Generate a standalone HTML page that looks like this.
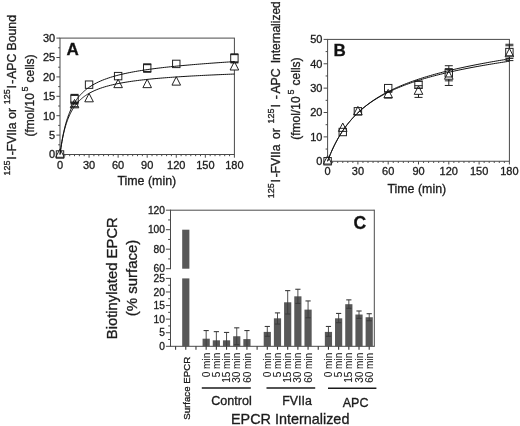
<!DOCTYPE html>
<html lang="en">
<head>
<meta charset="utf-8">
<title>Figure</title>
<style>
html,body{margin:0;padding:0;background:#fff;}
body{width:520px;height:426px;overflow:hidden;}
svg{display:block;}
text{font-family:"Liberation Sans",Arial,sans-serif;stroke:#1c1c1c;stroke-width:0.32px;}
</style>
</head>
<body>
<svg width="520" height="426" viewBox="0 0 520 426" font-family="'Liberation Sans', Arial, sans-serif">
<rect width="520" height="426" fill="#fff"/>
<rect x="60" y="38.1" width="174.4" height="116.4" fill="none" stroke="#4a4a4a" stroke-width="1"/>
<line x1="60" y1="154.5" x2="60" y2="157.7" stroke="#4a4a4a" stroke-width="1" />
<line x1="64.84" y1="154.5" x2="64.84" y2="156.2" stroke="#4a4a4a" stroke-width="1" />
<line x1="69.69" y1="154.5" x2="69.69" y2="156.2" stroke="#4a4a4a" stroke-width="1" />
<line x1="74.53" y1="154.5" x2="74.53" y2="156.2" stroke="#4a4a4a" stroke-width="1" />
<line x1="79.38" y1="154.5" x2="79.38" y2="156.2" stroke="#4a4a4a" stroke-width="1" />
<line x1="84.22" y1="154.5" x2="84.22" y2="156.2" stroke="#4a4a4a" stroke-width="1" />
<line x1="89.07" y1="154.5" x2="89.07" y2="157.7" stroke="#4a4a4a" stroke-width="1" />
<line x1="93.91" y1="154.5" x2="93.91" y2="156.2" stroke="#4a4a4a" stroke-width="1" />
<line x1="98.76" y1="154.5" x2="98.76" y2="156.2" stroke="#4a4a4a" stroke-width="1" />
<line x1="103.6" y1="154.5" x2="103.6" y2="156.2" stroke="#4a4a4a" stroke-width="1" />
<line x1="108.44" y1="154.5" x2="108.44" y2="156.2" stroke="#4a4a4a" stroke-width="1" />
<line x1="113.29" y1="154.5" x2="113.29" y2="156.2" stroke="#4a4a4a" stroke-width="1" />
<line x1="118.13" y1="154.5" x2="118.13" y2="157.7" stroke="#4a4a4a" stroke-width="1" />
<line x1="122.98" y1="154.5" x2="122.98" y2="156.2" stroke="#4a4a4a" stroke-width="1" />
<line x1="127.82" y1="154.5" x2="127.82" y2="156.2" stroke="#4a4a4a" stroke-width="1" />
<line x1="132.67" y1="154.5" x2="132.67" y2="156.2" stroke="#4a4a4a" stroke-width="1" />
<line x1="137.51" y1="154.5" x2="137.51" y2="156.2" stroke="#4a4a4a" stroke-width="1" />
<line x1="142.36" y1="154.5" x2="142.36" y2="156.2" stroke="#4a4a4a" stroke-width="1" />
<line x1="147.2" y1="154.5" x2="147.2" y2="157.7" stroke="#4a4a4a" stroke-width="1" />
<line x1="152.04" y1="154.5" x2="152.04" y2="156.2" stroke="#4a4a4a" stroke-width="1" />
<line x1="156.89" y1="154.5" x2="156.89" y2="156.2" stroke="#4a4a4a" stroke-width="1" />
<line x1="161.73" y1="154.5" x2="161.73" y2="156.2" stroke="#4a4a4a" stroke-width="1" />
<line x1="166.58" y1="154.5" x2="166.58" y2="156.2" stroke="#4a4a4a" stroke-width="1" />
<line x1="171.42" y1="154.5" x2="171.42" y2="156.2" stroke="#4a4a4a" stroke-width="1" />
<line x1="176.27" y1="154.5" x2="176.27" y2="157.7" stroke="#4a4a4a" stroke-width="1" />
<line x1="181.11" y1="154.5" x2="181.11" y2="156.2" stroke="#4a4a4a" stroke-width="1" />
<line x1="185.96" y1="154.5" x2="185.96" y2="156.2" stroke="#4a4a4a" stroke-width="1" />
<line x1="190.8" y1="154.5" x2="190.8" y2="156.2" stroke="#4a4a4a" stroke-width="1" />
<line x1="195.64" y1="154.5" x2="195.64" y2="156.2" stroke="#4a4a4a" stroke-width="1" />
<line x1="200.49" y1="154.5" x2="200.49" y2="156.2" stroke="#4a4a4a" stroke-width="1" />
<line x1="205.33" y1="154.5" x2="205.33" y2="157.7" stroke="#4a4a4a" stroke-width="1" />
<line x1="210.18" y1="154.5" x2="210.18" y2="156.2" stroke="#4a4a4a" stroke-width="1" />
<line x1="215.02" y1="154.5" x2="215.02" y2="156.2" stroke="#4a4a4a" stroke-width="1" />
<line x1="219.87" y1="154.5" x2="219.87" y2="156.2" stroke="#4a4a4a" stroke-width="1" />
<line x1="224.71" y1="154.5" x2="224.71" y2="156.2" stroke="#4a4a4a" stroke-width="1" />
<line x1="229.56" y1="154.5" x2="229.56" y2="156.2" stroke="#4a4a4a" stroke-width="1" />
<line x1="234.4" y1="154.5" x2="234.4" y2="157.7" stroke="#4a4a4a" stroke-width="1" />
<text x="60" y="168.7" font-size="11" text-anchor="middle" font-weight="normal" fill="#1c1c1c" >0</text>
<text x="89.07" y="168.7" font-size="11" text-anchor="middle" font-weight="normal" fill="#1c1c1c" >30</text>
<text x="118.13" y="168.7" font-size="11" text-anchor="middle" font-weight="normal" fill="#1c1c1c" >60</text>
<text x="147.2" y="168.7" font-size="11" text-anchor="middle" font-weight="normal" fill="#1c1c1c" >90</text>
<text x="176.27" y="168.7" font-size="11" text-anchor="middle" font-weight="normal" fill="#1c1c1c" >120</text>
<text x="205.33" y="168.7" font-size="11" text-anchor="middle" font-weight="normal" fill="#1c1c1c" >150</text>
<text x="234.4" y="168.7" font-size="11" text-anchor="middle" font-weight="normal" fill="#1c1c1c" >180</text>
<line x1="56.4" y1="154.5" x2="60" y2="154.5" stroke="#4a4a4a" stroke-width="1" />
<text x="55.2" y="158.4" font-size="11" text-anchor="end" font-weight="normal" fill="#1c1c1c" >0</text>
<line x1="58.2" y1="144.8" x2="60" y2="144.8" stroke="#4a4a4a" stroke-width="1" />
<line x1="56.4" y1="135.1" x2="60" y2="135.1" stroke="#4a4a4a" stroke-width="1" />
<text x="55.2" y="139" font-size="11" text-anchor="end" font-weight="normal" fill="#1c1c1c" >5</text>
<line x1="58.2" y1="125.4" x2="60" y2="125.4" stroke="#4a4a4a" stroke-width="1" />
<line x1="56.4" y1="115.7" x2="60" y2="115.7" stroke="#4a4a4a" stroke-width="1" />
<text x="55.2" y="119.6" font-size="11" text-anchor="end" font-weight="normal" fill="#1c1c1c" >10</text>
<line x1="58.2" y1="106" x2="60" y2="106" stroke="#4a4a4a" stroke-width="1" />
<line x1="56.4" y1="96.3" x2="60" y2="96.3" stroke="#4a4a4a" stroke-width="1" />
<text x="55.2" y="100.2" font-size="11" text-anchor="end" font-weight="normal" fill="#1c1c1c" >15</text>
<line x1="58.2" y1="86.6" x2="60" y2="86.6" stroke="#4a4a4a" stroke-width="1" />
<line x1="56.4" y1="76.9" x2="60" y2="76.9" stroke="#4a4a4a" stroke-width="1" />
<text x="55.2" y="80.8" font-size="11" text-anchor="end" font-weight="normal" fill="#1c1c1c" >20</text>
<line x1="58.2" y1="67.2" x2="60" y2="67.2" stroke="#4a4a4a" stroke-width="1" />
<line x1="56.4" y1="57.5" x2="60" y2="57.5" stroke="#4a4a4a" stroke-width="1" />
<text x="55.2" y="61.4" font-size="11" text-anchor="end" font-weight="normal" fill="#1c1c1c" >25</text>
<line x1="58.2" y1="47.8" x2="60" y2="47.8" stroke="#4a4a4a" stroke-width="1" />
<line x1="56.4" y1="38.1" x2="60" y2="38.1" stroke="#4a4a4a" stroke-width="1" />
<text x="55.2" y="42" font-size="11" text-anchor="end" font-weight="normal" fill="#1c1c1c" >30</text>
<line x1="74.53" y1="94.75" x2="74.53" y2="103.67" stroke="#222" stroke-width="1" />
<line x1="147.2" y1="64.29" x2="147.2" y2="71.86" stroke="#222" stroke-width="1" />
<line x1="234.4" y1="54.2" x2="234.4" y2="62.54" stroke="#222" stroke-width="1" />
<line x1="74.53" y1="102.12" x2="74.53" y2="106.78" stroke="#222" stroke-width="1" />
<rect x="56.3" y="150.8" width="7.4" height="7.4" fill="#fff" stroke="none" stroke-width="1"/>
<rect x="70.83" y="95.32" width="7.4" height="7.4" fill="#fff" stroke="none" stroke-width="1"/>
<rect x="85.37" y="80.96" width="7.4" height="7.4" fill="#fff" stroke="none" stroke-width="1"/>
<rect x="114.43" y="72.42" width="7.4" height="7.4" fill="#fff" stroke="none" stroke-width="1"/>
<rect x="143.5" y="64.28" width="7.4" height="7.4" fill="#fff" stroke="none" stroke-width="1"/>
<rect x="172.57" y="60.2" width="7.4" height="7.4" fill="#fff" stroke="none" stroke-width="1"/>
<rect x="230.7" y="54.58" width="7.4" height="7.4" fill="#fff" stroke="none" stroke-width="1"/>
<polygon points="60,148.9 55.7,157.3 64.3,157.3" fill="#fff" stroke="none" stroke-width="1" stroke-linejoin="miter"/>
<polygon points="74.53,99.43 70.23,107.83 78.83,107.83" fill="#fff" stroke="none" stroke-width="1" stroke-linejoin="miter"/>
<polygon points="89.07,93.42 84.77,101.82 93.37,101.82" fill="#fff" stroke="none" stroke-width="1" stroke-linejoin="miter"/>
<polygon points="118.13,79.25 113.83,87.65 122.43,87.65" fill="#fff" stroke="none" stroke-width="1" stroke-linejoin="miter"/>
<polygon points="147.2,79.25 142.9,87.65 151.5,87.65" fill="#fff" stroke="none" stroke-width="1" stroke-linejoin="miter"/>
<polygon points="176.27,76.73 171.97,85.13 180.57,85.13" fill="#fff" stroke="none" stroke-width="1" stroke-linejoin="miter"/>
<polygon points="234.4,61.6 230.1,70 238.7,70" fill="#fff" stroke="none" stroke-width="1" stroke-linejoin="miter"/>
<rect x="56.3" y="150.8" width="7.4" height="7.4" fill="none" stroke="#222" stroke-width="1"/>
<rect x="70.83" y="95.32" width="7.4" height="7.4" fill="none" stroke="#222" stroke-width="1"/>
<rect x="85.37" y="80.96" width="7.4" height="7.4" fill="none" stroke="#222" stroke-width="1"/>
<rect x="114.43" y="72.42" width="7.4" height="7.4" fill="none" stroke="#222" stroke-width="1"/>
<rect x="143.5" y="64.28" width="7.4" height="7.4" fill="none" stroke="#222" stroke-width="1"/>
<rect x="172.57" y="60.2" width="7.4" height="7.4" fill="none" stroke="#222" stroke-width="1"/>
<rect x="230.7" y="54.58" width="7.4" height="7.4" fill="none" stroke="#222" stroke-width="1"/>
<polygon points="60,148.9 55.7,157.3 64.3,157.3" fill="none" stroke="#222" stroke-width="1" stroke-linejoin="miter"/>
<polygon points="74.53,99.43 70.23,107.83 78.83,107.83" fill="none" stroke="#222" stroke-width="1" stroke-linejoin="miter"/>
<polygon points="89.07,93.42 84.77,101.82 93.37,101.82" fill="none" stroke="#222" stroke-width="1" stroke-linejoin="miter"/>
<polygon points="118.13,79.25 113.83,87.65 122.43,87.65" fill="none" stroke="#222" stroke-width="1" stroke-linejoin="miter"/>
<polygon points="147.2,79.25 142.9,87.65 151.5,87.65" fill="none" stroke="#222" stroke-width="1" stroke-linejoin="miter"/>
<polygon points="176.27,76.73 171.97,85.13 180.57,85.13" fill="none" stroke="#222" stroke-width="1" stroke-linejoin="miter"/>
<polygon points="234.4,61.6 230.1,70 238.7,70" fill="none" stroke="#222" stroke-width="1" stroke-linejoin="miter"/>
<line x1="70.53" y1="94.75" x2="78.53" y2="94.75" stroke="#222" stroke-width="1.8" />
<line x1="70.53" y1="103.67" x2="78.53" y2="103.67" stroke="#222" stroke-width="1.8" />
<line x1="143.2" y1="64.29" x2="151.2" y2="64.29" stroke="#222" stroke-width="1.8" />
<line x1="143.2" y1="71.86" x2="151.2" y2="71.86" stroke="#222" stroke-width="1.8" />
<line x1="230.4" y1="54.2" x2="238.4" y2="54.2" stroke="#222" stroke-width="1.8" />
<line x1="230.4" y1="62.54" x2="238.4" y2="62.54" stroke="#222" stroke-width="1.8" />
<line x1="70.53" y1="102.12" x2="78.53" y2="102.12" stroke="#222" stroke-width="1.2" />
<line x1="70.53" y1="106.78" x2="78.53" y2="106.78" stroke="#222" stroke-width="1.2" />
<polyline points="60,154.5 60.48,150.82 60.97,147.41 61.45,144.25 61.94,141.32 62.42,138.58 62.91,136.02 63.39,133.62 63.88,131.37 64.36,129.25 64.84,127.26 65.33,125.37 65.81,123.59 66.3,121.91 66.78,120.31 67.27,118.79 67.75,117.35 68.24,115.97 68.72,114.66 69.2,113.41 69.69,112.21 70.17,111.07 70.66,109.97 71.14,108.92 71.63,107.92 72.11,106.95 72.6,106.02 73.08,105.13 73.56,104.27 74.05,103.44 74.53,102.64 75.02,101.87 75.5,101.12 75.99,100.41 76.47,99.71 76.96,99.04 77.44,98.39 77.92,97.76 78.41,97.15 78.89,96.56 79.38,95.99 79.86,95.43 80.35,94.89 80.83,94.37 81.32,93.86 81.8,93.37 82.28,92.88 82.77,92.42 83.25,91.96 83.74,91.52 84.22,91.08 84.71,90.66 85.19,90.25 85.68,89.85 86.16,89.46 86.64,89.08 87.13,88.71 87.61,88.35 88.1,87.99 88.58,87.64 89.07,87.31 91,86.02 92.94,84.85 94.88,83.76 96.82,82.76 98.76,81.83 100.69,80.96 102.63,80.16 104.57,79.4 106.51,78.69 108.44,78.02 110.38,77.39 112.32,76.79 114.26,76.22 116.2,75.68 118.13,75.17 120.07,74.69 122.01,74.22 123.95,73.78 125.88,73.35 127.82,72.95 129.76,72.56 131.7,72.18 133.64,71.82 135.57,71.47 137.51,71.14 139.45,70.81 141.39,70.5 143.32,70.2 145.26,69.9 147.2,69.62 149.14,69.34 151.08,69.08 153.01,68.82 154.95,68.56 156.89,68.32 158.83,68.08 160.76,67.84 162.7,67.62 164.64,67.39 166.58,67.18 168.52,66.97 170.45,66.76 172.39,66.56 174.33,66.36 176.27,66.16 178.2,65.97 180.14,65.79 182.08,65.6 184.02,65.42 185.96,65.25 187.89,65.08 189.83,64.91 191.77,64.74 193.71,64.57 195.64,64.41 197.58,64.25 199.52,64.1 201.46,63.94 203.4,63.79 205.33,63.64 207.27,63.5 209.21,63.35 211.15,63.21 213.08,63.07 215.02,62.93 216.96,62.79 218.9,62.65 220.84,62.52 222.77,62.39 224.71,62.25 226.65,62.12 228.59,62 230.52,61.87 232.46,61.74 234.4,61.62" fill="none" stroke="#111" stroke-width="1"/>
<polyline points="60,154.5 60.48,150.88 60.97,147.56 61.45,144.51 61.94,141.69 62.42,139.08 62.91,136.66 63.39,134.4 63.88,132.29 64.36,130.32 64.84,128.48 65.33,126.74 65.81,125.1 66.3,123.56 66.78,122.11 67.27,120.73 67.75,119.42 68.24,118.18 68.72,117.01 69.2,115.89 69.69,114.82 70.17,113.8 70.66,112.83 71.14,111.9 71.63,111.01 72.11,110.16 72.6,109.35 73.08,108.56 73.56,107.81 74.05,107.09 74.53,106.4 75.02,105.73 75.5,105.08 75.99,104.46 76.47,103.86 76.96,103.28 77.44,102.73 77.92,102.19 78.41,101.66 78.89,101.16 79.38,100.67 79.86,100.2 80.35,99.74 80.83,99.29 81.32,98.86 81.8,98.44 82.28,98.03 82.77,97.64 83.25,97.25 83.74,96.88 84.22,96.52 84.71,96.16 85.19,95.82 85.68,95.48 86.16,95.16 86.64,94.84 87.13,94.53 87.61,94.23 88.1,93.93 88.58,93.64 89.07,93.36 91,92.3 92.94,91.34 94.88,90.45 96.82,89.63 98.76,88.88 100.69,88.18 102.63,87.52 104.57,86.92 106.51,86.35 108.44,85.82 110.38,85.32 112.32,84.85 114.26,84.41 116.2,83.99 118.13,83.59 120.07,83.21 122.01,82.85 123.95,82.51 125.88,82.19 127.82,81.88 129.76,81.58 131.7,81.3 133.64,81.03 135.57,80.77 137.51,80.52 139.45,80.28 141.39,80.05 143.32,79.83 145.26,79.61 147.2,79.4 149.14,79.2 151.08,79.01 153.01,78.82 154.95,78.64 156.89,78.47 158.83,78.3 160.76,78.13 162.7,77.97 164.64,77.82 166.58,77.67 168.52,77.52 170.45,77.38 172.39,77.24 174.33,77.1 176.27,76.97 178.2,76.84 180.14,76.71 182.08,76.59 184.02,76.47 185.96,76.35 187.89,76.24 189.83,76.12 191.77,76.01 193.71,75.91 195.64,75.8 197.58,75.7 199.52,75.6 201.46,75.5 203.4,75.4 205.33,75.3 207.27,75.21 209.21,75.12 211.15,75.03 213.08,74.94 215.02,74.85 216.96,74.76 218.9,74.68 220.84,74.59 222.77,74.51 224.71,74.43 226.65,74.35 228.59,74.27 230.52,74.2 232.46,74.12 234.4,74.05" fill="none" stroke="#111" stroke-width="1"/>
<text x="66.6" y="54.7" font-size="17" text-anchor="start" font-weight="bold" fill="#111" >A</text>
<text x="146.8" y="185" font-size="12.4" text-anchor="middle" font-weight="normal" fill="#1c1c1c" >Time (min)</text>
<text x="10" y="175.49" font-size="9" fill="#1c1c1c" transform="rotate(-90 10 175.49)">125</text>
<text x="16.2" y="159.78" font-size="12" fill="#1c1c1c" transform="rotate(-90 16.2 159.78)">I</text>
<text x="16.2" y="155.18" font-size="12" fill="#1c1c1c" transform="rotate(-90 16.2 155.18)">-FVIIa</text>
<text x="16.2" y="118.72" font-size="12" fill="#1c1c1c" transform="rotate(-90 16.2 118.72)">or</text>
<text x="10" y="104.19" font-size="9" fill="#1c1c1c" transform="rotate(-90 10 104.19)">125</text>
<text x="16.2" y="88.38" font-size="12" fill="#1c1c1c" transform="rotate(-90 16.2 88.38)">I</text>
<text x="16.2" y="83.68" font-size="12" fill="#1c1c1c" transform="rotate(-90 16.2 83.68)">-</text>
<text x="16.2" y="79" font-size="12.3" fill="#1c1c1c" transform="rotate(-90 16.2 79)">APC</text>
<text x="16.2" y="50.52" font-size="12.3" fill="#1c1c1c" transform="rotate(-90 16.2 50.52)">Bound</text>
<text x="34" y="136.52" font-size="12" fill="#1c1c1c" transform="rotate(-90 34 136.52)">(fmol/10</text>
<text x="28.5" y="91.52" font-size="9" fill="#1c1c1c" transform="rotate(-90 28.5 91.52)">5</text>
<text x="34" y="82.42" font-size="12" fill="#1c1c1c" transform="rotate(-90 34 82.42)">cells)</text>
<rect x="327.6" y="39.4" width="181.8" height="121.85" fill="none" stroke="#4a4a4a" stroke-width="1"/>
<line x1="327.6" y1="161.25" x2="327.6" y2="164.45" stroke="#4a4a4a" stroke-width="1" />
<line x1="332.65" y1="161.25" x2="332.65" y2="162.95" stroke="#4a4a4a" stroke-width="1" />
<line x1="337.7" y1="161.25" x2="337.7" y2="162.95" stroke="#4a4a4a" stroke-width="1" />
<line x1="342.75" y1="161.25" x2="342.75" y2="162.95" stroke="#4a4a4a" stroke-width="1" />
<line x1="347.8" y1="161.25" x2="347.8" y2="162.95" stroke="#4a4a4a" stroke-width="1" />
<line x1="352.85" y1="161.25" x2="352.85" y2="162.95" stroke="#4a4a4a" stroke-width="1" />
<line x1="357.9" y1="161.25" x2="357.9" y2="164.45" stroke="#4a4a4a" stroke-width="1" />
<line x1="362.95" y1="161.25" x2="362.95" y2="162.95" stroke="#4a4a4a" stroke-width="1" />
<line x1="368" y1="161.25" x2="368" y2="162.95" stroke="#4a4a4a" stroke-width="1" />
<line x1="373.05" y1="161.25" x2="373.05" y2="162.95" stroke="#4a4a4a" stroke-width="1" />
<line x1="378.1" y1="161.25" x2="378.1" y2="162.95" stroke="#4a4a4a" stroke-width="1" />
<line x1="383.15" y1="161.25" x2="383.15" y2="162.95" stroke="#4a4a4a" stroke-width="1" />
<line x1="388.2" y1="161.25" x2="388.2" y2="164.45" stroke="#4a4a4a" stroke-width="1" />
<line x1="393.25" y1="161.25" x2="393.25" y2="162.95" stroke="#4a4a4a" stroke-width="1" />
<line x1="398.3" y1="161.25" x2="398.3" y2="162.95" stroke="#4a4a4a" stroke-width="1" />
<line x1="403.35" y1="161.25" x2="403.35" y2="162.95" stroke="#4a4a4a" stroke-width="1" />
<line x1="408.4" y1="161.25" x2="408.4" y2="162.95" stroke="#4a4a4a" stroke-width="1" />
<line x1="413.45" y1="161.25" x2="413.45" y2="162.95" stroke="#4a4a4a" stroke-width="1" />
<line x1="418.5" y1="161.25" x2="418.5" y2="164.45" stroke="#4a4a4a" stroke-width="1" />
<line x1="423.55" y1="161.25" x2="423.55" y2="162.95" stroke="#4a4a4a" stroke-width="1" />
<line x1="428.6" y1="161.25" x2="428.6" y2="162.95" stroke="#4a4a4a" stroke-width="1" />
<line x1="433.65" y1="161.25" x2="433.65" y2="162.95" stroke="#4a4a4a" stroke-width="1" />
<line x1="438.7" y1="161.25" x2="438.7" y2="162.95" stroke="#4a4a4a" stroke-width="1" />
<line x1="443.75" y1="161.25" x2="443.75" y2="162.95" stroke="#4a4a4a" stroke-width="1" />
<line x1="448.8" y1="161.25" x2="448.8" y2="164.45" stroke="#4a4a4a" stroke-width="1" />
<line x1="453.85" y1="161.25" x2="453.85" y2="162.95" stroke="#4a4a4a" stroke-width="1" />
<line x1="458.9" y1="161.25" x2="458.9" y2="162.95" stroke="#4a4a4a" stroke-width="1" />
<line x1="463.95" y1="161.25" x2="463.95" y2="162.95" stroke="#4a4a4a" stroke-width="1" />
<line x1="469" y1="161.25" x2="469" y2="162.95" stroke="#4a4a4a" stroke-width="1" />
<line x1="474.05" y1="161.25" x2="474.05" y2="162.95" stroke="#4a4a4a" stroke-width="1" />
<line x1="479.1" y1="161.25" x2="479.1" y2="164.45" stroke="#4a4a4a" stroke-width="1" />
<line x1="484.15" y1="161.25" x2="484.15" y2="162.95" stroke="#4a4a4a" stroke-width="1" />
<line x1="489.2" y1="161.25" x2="489.2" y2="162.95" stroke="#4a4a4a" stroke-width="1" />
<line x1="494.25" y1="161.25" x2="494.25" y2="162.95" stroke="#4a4a4a" stroke-width="1" />
<line x1="499.3" y1="161.25" x2="499.3" y2="162.95" stroke="#4a4a4a" stroke-width="1" />
<line x1="504.35" y1="161.25" x2="504.35" y2="162.95" stroke="#4a4a4a" stroke-width="1" />
<line x1="509.4" y1="161.25" x2="509.4" y2="164.45" stroke="#4a4a4a" stroke-width="1" />
<text x="327.6" y="175.45" font-size="11" text-anchor="middle" font-weight="normal" fill="#1c1c1c" >0</text>
<text x="357.9" y="175.45" font-size="11" text-anchor="middle" font-weight="normal" fill="#1c1c1c" >30</text>
<text x="388.2" y="175.45" font-size="11" text-anchor="middle" font-weight="normal" fill="#1c1c1c" >60</text>
<text x="418.5" y="175.45" font-size="11" text-anchor="middle" font-weight="normal" fill="#1c1c1c" >90</text>
<text x="448.8" y="175.45" font-size="11" text-anchor="middle" font-weight="normal" fill="#1c1c1c" >120</text>
<text x="479.1" y="175.45" font-size="11" text-anchor="middle" font-weight="normal" fill="#1c1c1c" >150</text>
<text x="509.4" y="175.45" font-size="11" text-anchor="middle" font-weight="normal" fill="#1c1c1c" >180</text>
<line x1="323.6" y1="161.25" x2="327.6" y2="161.25" stroke="#4a4a4a" stroke-width="1" />
<text x="322.4" y="165.15" font-size="11" text-anchor="end" font-weight="normal" fill="#1c1c1c" >0</text>
<line x1="325.6" y1="149.06" x2="327.6" y2="149.06" stroke="#4a4a4a" stroke-width="1" />
<line x1="323.6" y1="136.88" x2="327.6" y2="136.88" stroke="#4a4a4a" stroke-width="1" />
<text x="322.4" y="140.78" font-size="11" text-anchor="end" font-weight="normal" fill="#1c1c1c" >10</text>
<line x1="325.6" y1="124.69" x2="327.6" y2="124.69" stroke="#4a4a4a" stroke-width="1" />
<line x1="323.6" y1="112.51" x2="327.6" y2="112.51" stroke="#4a4a4a" stroke-width="1" />
<text x="322.4" y="116.41" font-size="11" text-anchor="end" font-weight="normal" fill="#1c1c1c" >20</text>
<line x1="325.6" y1="100.33" x2="327.6" y2="100.33" stroke="#4a4a4a" stroke-width="1" />
<line x1="323.6" y1="88.14" x2="327.6" y2="88.14" stroke="#4a4a4a" stroke-width="1" />
<text x="322.4" y="92.04" font-size="11" text-anchor="end" font-weight="normal" fill="#1c1c1c" >30</text>
<line x1="325.6" y1="75.96" x2="327.6" y2="75.96" stroke="#4a4a4a" stroke-width="1" />
<line x1="323.6" y1="63.77" x2="327.6" y2="63.77" stroke="#4a4a4a" stroke-width="1" />
<text x="322.4" y="67.67" font-size="11" text-anchor="end" font-weight="normal" fill="#1c1c1c" >40</text>
<line x1="325.6" y1="51.59" x2="327.6" y2="51.59" stroke="#4a4a4a" stroke-width="1" />
<line x1="323.6" y1="39.4" x2="327.6" y2="39.4" stroke="#4a4a4a" stroke-width="1" />
<text x="322.4" y="43.3" font-size="11" text-anchor="end" font-weight="normal" fill="#1c1c1c" >50</text>
<line x1="418.5" y1="81.32" x2="418.5" y2="88.14" stroke="#222" stroke-width="1" />
<line x1="448.8" y1="68.64" x2="448.8" y2="80.83" stroke="#222" stroke-width="1" />
<line x1="509.4" y1="45.74" x2="509.4" y2="58.41" stroke="#222" stroke-width="1" />
<line x1="388.2" y1="92.04" x2="388.2" y2="97.89" stroke="#222" stroke-width="1" />
<line x1="418.5" y1="85.7" x2="418.5" y2="97.4" stroke="#222" stroke-width="1" />
<line x1="448.8" y1="65.72" x2="448.8" y2="85.46" stroke="#222" stroke-width="1" />
<line x1="509.4" y1="44.27" x2="509.4" y2="60.6" stroke="#222" stroke-width="1" />
<rect x="323.9" y="157.55" width="7.4" height="7.4" fill="#fff" stroke="none" stroke-width="1"/>
<rect x="339.05" y="128.31" width="7.4" height="7.4" fill="#fff" stroke="none" stroke-width="1"/>
<rect x="354.2" y="107.59" width="7.4" height="7.4" fill="#fff" stroke="none" stroke-width="1"/>
<rect x="384.5" y="84.44" width="7.4" height="7.4" fill="#fff" stroke="none" stroke-width="1"/>
<rect x="414.8" y="81.03" width="7.4" height="7.4" fill="#fff" stroke="none" stroke-width="1"/>
<rect x="445.1" y="69.57" width="7.4" height="7.4" fill="#fff" stroke="none" stroke-width="1"/>
<rect x="505.7" y="48.37" width="7.4" height="7.4" fill="#fff" stroke="none" stroke-width="1"/>
<polygon points="327.6,155.65 323.3,164.05 331.9,164.05" fill="#fff" stroke="none" stroke-width="1" stroke-linejoin="miter"/>
<polygon points="342.75,122.99 338.45,131.39 347.05,131.39" fill="#fff" stroke="none" stroke-width="1" stroke-linejoin="miter"/>
<polygon points="357.9,106.42 353.6,114.82 362.2,114.82" fill="#fff" stroke="none" stroke-width="1" stroke-linejoin="miter"/>
<polygon points="388.2,89.36 383.9,97.76 392.5,97.76" fill="#fff" stroke="none" stroke-width="1" stroke-linejoin="miter"/>
<polygon points="418.5,85.95 414.2,94.35 422.8,94.35" fill="#fff" stroke="none" stroke-width="1" stroke-linejoin="miter"/>
<polygon points="448.8,70.84 444.5,79.24 453.1,79.24" fill="#fff" stroke="none" stroke-width="1" stroke-linejoin="miter"/>
<polygon points="509.4,48.42 505.1,56.82 513.7,56.82" fill="#fff" stroke="none" stroke-width="1" stroke-linejoin="miter"/>
<rect x="323.9" y="157.55" width="7.4" height="7.4" fill="none" stroke="#222" stroke-width="1"/>
<rect x="339.05" y="128.31" width="7.4" height="7.4" fill="none" stroke="#222" stroke-width="1"/>
<rect x="354.2" y="107.59" width="7.4" height="7.4" fill="none" stroke="#222" stroke-width="1"/>
<rect x="384.5" y="84.44" width="7.4" height="7.4" fill="none" stroke="#222" stroke-width="1"/>
<rect x="414.8" y="81.03" width="7.4" height="7.4" fill="none" stroke="#222" stroke-width="1"/>
<rect x="445.1" y="69.57" width="7.4" height="7.4" fill="none" stroke="#222" stroke-width="1"/>
<rect x="505.7" y="48.37" width="7.4" height="7.4" fill="none" stroke="#222" stroke-width="1"/>
<polygon points="327.6,155.65 323.3,164.05 331.9,164.05" fill="none" stroke="#222" stroke-width="1" stroke-linejoin="miter"/>
<polygon points="342.75,122.99 338.45,131.39 347.05,131.39" fill="none" stroke="#222" stroke-width="1" stroke-linejoin="miter"/>
<polygon points="357.9,106.42 353.6,114.82 362.2,114.82" fill="none" stroke="#222" stroke-width="1" stroke-linejoin="miter"/>
<polygon points="388.2,89.36 383.9,97.76 392.5,97.76" fill="none" stroke="#222" stroke-width="1" stroke-linejoin="miter"/>
<polygon points="418.5,85.95 414.2,94.35 422.8,94.35" fill="none" stroke="#222" stroke-width="1" stroke-linejoin="miter"/>
<polygon points="448.8,70.84 444.5,79.24 453.1,79.24" fill="none" stroke="#222" stroke-width="1" stroke-linejoin="miter"/>
<polygon points="509.4,48.42 505.1,56.82 513.7,56.82" fill="none" stroke="#222" stroke-width="1" stroke-linejoin="miter"/>
<line x1="414.5" y1="81.32" x2="422.5" y2="81.32" stroke="#222" stroke-width="1" />
<line x1="414.5" y1="88.14" x2="422.5" y2="88.14" stroke="#222" stroke-width="1" />
<line x1="444.8" y1="68.64" x2="452.8" y2="68.64" stroke="#222" stroke-width="1" />
<line x1="444.8" y1="80.83" x2="452.8" y2="80.83" stroke="#222" stroke-width="1" />
<line x1="505.4" y1="45.74" x2="513.4" y2="45.74" stroke="#222" stroke-width="1" />
<line x1="505.4" y1="58.41" x2="513.4" y2="58.41" stroke="#222" stroke-width="1" />
<line x1="384.2" y1="92.04" x2="392.2" y2="92.04" stroke="#222" stroke-width="1.3" />
<line x1="384.2" y1="97.89" x2="392.2" y2="97.89" stroke="#222" stroke-width="1.3" />
<line x1="414.5" y1="85.7" x2="422.5" y2="85.7" stroke="#222" stroke-width="1" />
<line x1="414.5" y1="97.4" x2="422.5" y2="97.4" stroke="#222" stroke-width="1" />
<line x1="444.8" y1="65.72" x2="452.8" y2="65.72" stroke="#222" stroke-width="1" />
<line x1="444.8" y1="85.46" x2="452.8" y2="85.46" stroke="#222" stroke-width="1" />
<line x1="505.4" y1="44.27" x2="513.4" y2="44.27" stroke="#222" stroke-width="1" />
<line x1="505.4" y1="60.6" x2="513.4" y2="60.6" stroke="#222" stroke-width="1" />
<polyline points="327.6,161.25 328.11,159.91 328.61,158.59 329.12,157.31 329.62,156.05 330.12,154.82 330.63,153.62 331.14,152.45 331.64,151.29 332.15,150.17 332.65,149.06 333.16,147.98 333.66,146.92 334.17,145.88 334.67,144.86 335.18,143.87 335.68,142.89 336.19,141.93 336.69,140.98 337.19,140.06 337.7,139.15 338.21,138.26 338.71,137.39 339.22,136.53 339.72,135.68 340.23,134.85 340.73,134.04 341.24,133.24 341.74,132.45 342.25,131.68 342.75,130.92 343.25,130.17 343.76,129.43 344.27,128.71 344.77,128 345.28,127.3 345.78,126.61 346.29,125.93 346.79,125.26 347.3,124.6 347.8,123.96 348.31,123.32 348.81,122.69 349.31,122.07 349.82,121.46 350.33,120.86 350.83,120.27 351.34,119.68 351.84,119.11 352.35,118.54 352.85,117.98 353.36,117.43 353.86,116.89 354.37,116.35 354.87,115.82 355.38,115.3 355.88,114.79 356.38,114.28 356.89,113.78 357.4,113.28 357.9,112.79 359.92,110.9 361.94,109.1 363.96,107.39 365.98,105.75 368,104.19 370.02,102.69 372.04,101.26 374.06,99.89 376.08,98.57 378.1,97.31 380.12,96.09 382.14,94.92 384.16,93.79 386.18,92.7 388.2,91.65 390.22,90.63 392.24,89.65 394.26,88.7 396.28,87.78 398.3,86.88 400.32,86.01 402.34,85.17 404.36,84.36 406.38,83.56 408.4,82.79 410.42,82.04 412.44,81.3 414.46,80.59 416.48,79.89 418.5,79.21 420.52,78.55 422.54,77.9 424.56,77.27 426.58,76.66 428.6,76.05 430.62,75.46 432.64,74.88 434.66,74.32 436.68,73.76 438.7,73.22 440.72,72.69 442.74,72.16 444.76,71.65 446.78,71.15 448.8,70.65 450.82,70.17 452.84,69.69 454.86,69.22 456.88,68.76 458.9,68.31 460.92,67.86 462.94,67.43 464.96,67 466.98,66.57 469,66.15 471.02,65.74 473.04,65.33 475.06,64.93 477.08,64.54 479.1,64.15 481.12,63.77 483.14,63.39 485.16,63.02 487.18,62.65 489.2,62.28 491.22,61.92 493.24,61.57 495.26,61.22 497.28,60.87 499.3,60.53 501.32,60.19 503.34,59.86 505.36,59.52 507.38,59.2 509.4,58.87" fill="none" stroke="#111" stroke-width="1"/>
<polyline points="327.6,161.25 328.11,159.88 328.61,158.54 329.12,157.23 329.62,155.95 330.12,154.7 330.63,153.48 331.14,152.29 331.64,151.13 332.15,149.98 332.65,148.87 333.16,147.77 333.66,146.7 334.17,145.66 334.67,144.63 335.18,143.63 335.68,142.64 336.19,141.68 336.69,140.73 337.19,139.8 337.7,138.89 338.21,138 338.71,137.12 339.22,136.26 339.72,135.42 340.23,134.59 340.73,133.78 341.24,132.98 341.74,132.2 342.25,131.43 342.75,130.67 343.25,129.93 343.76,129.19 344.27,128.48 344.77,127.77 345.28,127.07 345.78,126.39 346.29,125.72 346.79,125.06 347.3,124.4 347.8,123.76 348.31,123.13 348.81,122.51 349.31,121.9 349.82,121.3 350.33,120.71 350.83,120.12 351.34,119.55 351.84,118.98 352.35,118.42 352.85,117.87 353.36,117.33 353.86,116.79 354.37,116.27 354.87,115.75 355.38,115.24 355.88,114.73 356.38,114.23 356.89,113.74 357.4,113.25 357.9,112.78 359.92,110.92 361.94,109.17 363.96,107.49 365.98,105.9 368,104.38 370.02,102.93 372.04,101.54 374.06,100.21 376.08,98.94 378.1,97.71 380.12,96.54 382.14,95.41 384.16,94.32 386.18,93.27 388.2,92.26 390.22,91.28 392.24,90.34 394.26,89.43 396.28,88.54 398.3,87.69 400.32,86.86 402.34,86.05 404.36,85.27 406.38,84.51 408.4,83.78 410.42,83.06 412.44,82.36 414.46,81.68 416.48,81.02 418.5,80.38 420.52,79.75 422.54,79.13 424.56,78.53 426.58,77.95 428.6,77.37 430.62,76.81 432.64,76.27 434.66,75.73 436.68,75.21 438.7,74.69 440.72,74.19 442.74,73.7 444.76,73.21 446.78,72.74 448.8,72.27 450.82,71.82 452.84,71.37 454.86,70.93 456.88,70.49 458.9,70.07 460.92,69.65 462.94,69.24 464.96,68.83 466.98,68.43 469,68.04 471.02,67.65 473.04,67.27 475.06,66.9 477.08,66.53 479.1,66.16 481.12,65.8 483.14,65.45 485.16,65.1 487.18,64.76 489.2,64.41 491.22,64.08 493.24,63.75 495.26,63.42 497.28,63.1 499.3,62.78 501.32,62.46 503.34,62.15 505.36,61.84 507.38,61.53 509.4,61.23" fill="none" stroke="#111" stroke-width="1"/>
<text x="333.6" y="56.3" font-size="17" text-anchor="start" font-weight="bold" fill="#111" >B</text>
<text x="416.8" y="193.2" font-size="12.4" text-anchor="middle" font-weight="normal" fill="#1c1c1c" >Time (min)</text>
<text x="274.2" y="198.29" font-size="9" fill="#1c1c1c" transform="rotate(-90 274.2 198.29)">125</text>
<text x="280.2" y="182.38" font-size="12" fill="#1c1c1c" transform="rotate(-90 280.2 182.38)">I</text>
<text x="280.2" y="177.28" font-size="12" fill="#1c1c1c" transform="rotate(-90 280.2 177.28)">-FVIIa</text>
<text x="280.2" y="138.92" font-size="12" fill="#1c1c1c" transform="rotate(-90 280.2 138.92)">or</text>
<text x="274.2" y="123.59" font-size="9" fill="#1c1c1c" transform="rotate(-90 274.2 123.59)">125</text>
<text x="280.2" y="107.38" font-size="12" fill="#1c1c1c" transform="rotate(-90 280.2 107.38)">I</text>
<text x="280.2" y="99.18" font-size="12" fill="#1c1c1c" transform="rotate(-90 280.2 99.18)">-</text>
<text x="280.2" y="93.6" font-size="12.3" fill="#1c1c1c" transform="rotate(-90 280.2 93.6)">APC</text>
<text x="280.2" y="63.28" font-size="12" fill="#1c1c1c" transform="rotate(-90 280.2 63.28)">Internalized</text>
<text x="300" y="139.72" font-size="12" fill="#1c1c1c" transform="rotate(-90 300 139.72)">(fmol/10</text>
<text x="294.5" y="94.52" font-size="9" fill="#1c1c1c" transform="rotate(-90 294.5 94.52)">5</text>
<text x="300" y="85.42" font-size="12" fill="#1c1c1c" transform="rotate(-90 300 85.42)">cells)</text>
<line x1="170.5" y1="210.2" x2="374.3" y2="210.2" stroke="#4a4a4a" stroke-width="1" />
<line x1="374.3" y1="209.7" x2="374.3" y2="346.8" stroke="#4a4a4a" stroke-width="1" />
<line x1="170.5" y1="346.3" x2="374.3" y2="346.3" stroke="#4a4a4a" stroke-width="1" />
<line x1="170.5" y1="209.7" x2="170.5" y2="269.2" stroke="#4a4a4a" stroke-width="1" />
<line x1="170.5" y1="277.9" x2="170.5" y2="346.8" stroke="#4a4a4a" stroke-width="1" />
<line x1="165.9" y1="268.7" x2="170.5" y2="268.7" stroke="#4a4a4a" stroke-width="1" />
<text x="164.9" y="272.3" font-size="10.2" text-anchor="end" font-weight="normal" fill="#1c1c1c" >60</text>
<line x1="168.1" y1="258.95" x2="170.5" y2="258.95" stroke="#4a4a4a" stroke-width="1" />
<line x1="165.9" y1="249.2" x2="170.5" y2="249.2" stroke="#4a4a4a" stroke-width="1" />
<text x="164.9" y="252.8" font-size="10.2" text-anchor="end" font-weight="normal" fill="#1c1c1c" >80</text>
<line x1="168.1" y1="239.45" x2="170.5" y2="239.45" stroke="#4a4a4a" stroke-width="1" />
<line x1="165.9" y1="229.7" x2="170.5" y2="229.7" stroke="#4a4a4a" stroke-width="1" />
<text x="164.9" y="233.3" font-size="10.2" text-anchor="end" font-weight="normal" fill="#1c1c1c" >100</text>
<line x1="168.1" y1="219.95" x2="170.5" y2="219.95" stroke="#4a4a4a" stroke-width="1" />
<line x1="165.9" y1="210.2" x2="170.5" y2="210.2" stroke="#4a4a4a" stroke-width="1" />
<text x="164.9" y="213.8" font-size="10.2" text-anchor="end" font-weight="normal" fill="#1c1c1c" >120</text>
<line x1="165.9" y1="346.3" x2="170.5" y2="346.3" stroke="#4a4a4a" stroke-width="1" />
<text x="164.9" y="349.9" font-size="10.2" text-anchor="end" font-weight="normal" fill="#1c1c1c" >0</text>
<line x1="168.1" y1="339.51" x2="170.5" y2="339.51" stroke="#4a4a4a" stroke-width="1" />
<line x1="165.9" y1="332.72" x2="170.5" y2="332.72" stroke="#4a4a4a" stroke-width="1" />
<text x="164.9" y="336.32" font-size="10.2" text-anchor="end" font-weight="normal" fill="#1c1c1c" >5</text>
<line x1="168.1" y1="325.93" x2="170.5" y2="325.93" stroke="#4a4a4a" stroke-width="1" />
<line x1="165.9" y1="319.14" x2="170.5" y2="319.14" stroke="#4a4a4a" stroke-width="1" />
<text x="164.9" y="322.74" font-size="10.2" text-anchor="end" font-weight="normal" fill="#1c1c1c" >10</text>
<line x1="168.1" y1="312.35" x2="170.5" y2="312.35" stroke="#4a4a4a" stroke-width="1" />
<line x1="165.9" y1="305.56" x2="170.5" y2="305.56" stroke="#4a4a4a" stroke-width="1" />
<text x="164.9" y="309.16" font-size="10.2" text-anchor="end" font-weight="normal" fill="#1c1c1c" >15</text>
<line x1="168.1" y1="298.77" x2="170.5" y2="298.77" stroke="#4a4a4a" stroke-width="1" />
<line x1="165.9" y1="291.98" x2="170.5" y2="291.98" stroke="#4a4a4a" stroke-width="1" />
<text x="164.9" y="295.58" font-size="10.2" text-anchor="end" font-weight="normal" fill="#1c1c1c" >20</text>
<line x1="168.1" y1="285.19" x2="170.5" y2="285.19" stroke="#4a4a4a" stroke-width="1" />
<line x1="165.9" y1="278.4" x2="170.5" y2="278.4" stroke="#4a4a4a" stroke-width="1" />
<text x="164.9" y="282" font-size="10.2" text-anchor="end" font-weight="normal" fill="#1c1c1c" >25</text>
<line x1="175.59" y1="346.3" x2="175.59" y2="349.7" stroke="#3a3a3a" stroke-width="1.1" />
<line x1="185.78" y1="346.3" x2="185.78" y2="349.7" stroke="#3a3a3a" stroke-width="1.1" />
<line x1="195.97" y1="346.3" x2="195.97" y2="349.7" stroke="#3a3a3a" stroke-width="1.1" />
<line x1="206.17" y1="346.3" x2="206.17" y2="349.7" stroke="#3a3a3a" stroke-width="1.1" />
<line x1="216.36" y1="346.3" x2="216.36" y2="349.7" stroke="#3a3a3a" stroke-width="1.1" />
<line x1="226.55" y1="346.3" x2="226.55" y2="349.7" stroke="#3a3a3a" stroke-width="1.1" />
<line x1="236.74" y1="346.3" x2="236.74" y2="349.7" stroke="#3a3a3a" stroke-width="1.1" />
<line x1="246.93" y1="346.3" x2="246.93" y2="349.7" stroke="#3a3a3a" stroke-width="1.1" />
<line x1="257.12" y1="346.3" x2="257.12" y2="349.7" stroke="#3a3a3a" stroke-width="1.1" />
<line x1="267.31" y1="346.3" x2="267.31" y2="349.7" stroke="#3a3a3a" stroke-width="1.1" />
<line x1="277.5" y1="346.3" x2="277.5" y2="349.7" stroke="#3a3a3a" stroke-width="1.1" />
<line x1="287.69" y1="346.3" x2="287.69" y2="349.7" stroke="#3a3a3a" stroke-width="1.1" />
<line x1="297.88" y1="346.3" x2="297.88" y2="349.7" stroke="#3a3a3a" stroke-width="1.1" />
<line x1="308.07" y1="346.3" x2="308.07" y2="349.7" stroke="#3a3a3a" stroke-width="1.1" />
<line x1="318.25" y1="346.3" x2="318.25" y2="349.7" stroke="#3a3a3a" stroke-width="1.1" />
<line x1="328.45" y1="346.3" x2="328.45" y2="349.7" stroke="#3a3a3a" stroke-width="1.1" />
<line x1="338.63" y1="346.3" x2="338.63" y2="349.7" stroke="#3a3a3a" stroke-width="1.1" />
<line x1="348.83" y1="346.3" x2="348.83" y2="349.7" stroke="#3a3a3a" stroke-width="1.1" />
<line x1="359.01" y1="346.3" x2="359.01" y2="349.7" stroke="#3a3a3a" stroke-width="1.1" />
<line x1="369.21" y1="346.3" x2="369.21" y2="349.7" stroke="#3a3a3a" stroke-width="1.1" />
<rect x="182.19" y="229.7" width="7.2" height="39" fill="#585858"/>
<rect x="182.19" y="278.4" width="7.2" height="67.9" fill="#585858"/>
<rect x="202.57" y="338.7" width="7.2" height="7.6" fill="#585858"/>
<line x1="206.17" y1="330.55" x2="206.17" y2="346.3" stroke="#3c3c3c" stroke-width="0.9" />
<line x1="203.57" y1="330.55" x2="208.77" y2="330.55" stroke="#3c3c3c" stroke-width="1.1" />
<text x="209.77" y="352.8" font-size="10" text-anchor="end" font-weight="normal" fill="#1c1c1c" transform="rotate(-90 209.77 352.8)" style="stroke-width:0.1px">0 min</text>
<rect x="212.76" y="340.32" width="7.2" height="5.98" fill="#585858"/>
<line x1="216.36" y1="331.63" x2="216.36" y2="346.3" stroke="#3c3c3c" stroke-width="0.9" />
<line x1="213.76" y1="331.63" x2="218.96" y2="331.63" stroke="#3c3c3c" stroke-width="1.1" />
<text x="219.96" y="352.8" font-size="10" text-anchor="end" font-weight="normal" fill="#1c1c1c" transform="rotate(-90 219.96 352.8)" style="stroke-width:0.1px">5 min</text>
<rect x="222.95" y="340.32" width="7.2" height="5.98" fill="#585858"/>
<line x1="226.55" y1="332.45" x2="226.55" y2="346.3" stroke="#3c3c3c" stroke-width="0.9" />
<line x1="223.95" y1="332.45" x2="229.15" y2="332.45" stroke="#3c3c3c" stroke-width="1.1" />
<text x="230.15" y="352.8" font-size="10" text-anchor="end" font-weight="normal" fill="#1c1c1c" transform="rotate(-90 230.15 352.8)" style="stroke-width:0.1px">15 min</text>
<rect x="233.14" y="336.25" width="7.2" height="10.05" fill="#585858"/>
<line x1="236.74" y1="327.83" x2="236.74" y2="344.67" stroke="#3c3c3c" stroke-width="0.9" />
<line x1="234.14" y1="327.83" x2="239.34" y2="327.83" stroke="#3c3c3c" stroke-width="1.1" />
<line x1="234.14" y1="344.67" x2="239.34" y2="344.67" stroke="#3c3c3c" stroke-width="1.1" />
<text x="240.34" y="352.8" font-size="10" text-anchor="end" font-weight="normal" fill="#1c1c1c" transform="rotate(-90 240.34 352.8)" style="stroke-width:0.1px">30 min</text>
<rect x="243.33" y="339.1" width="7.2" height="7.2" fill="#585858"/>
<line x1="246.93" y1="330.55" x2="246.93" y2="346.3" stroke="#3c3c3c" stroke-width="0.9" />
<line x1="244.33" y1="330.55" x2="249.53" y2="330.55" stroke="#3c3c3c" stroke-width="1.1" />
<text x="250.53" y="352.8" font-size="10" text-anchor="end" font-weight="normal" fill="#1c1c1c" transform="rotate(-90 250.53 352.8)" style="stroke-width:0.1px">60 min</text>
<rect x="263.7" y="331.91" width="7.2" height="14.39" fill="#585858"/>
<line x1="267.31" y1="326.47" x2="267.31" y2="336.25" stroke="#3c3c3c" stroke-width="0.9" />
<line x1="264.7" y1="326.47" x2="269.91" y2="326.47" stroke="#3c3c3c" stroke-width="1.1" />
<line x1="264.7" y1="336.25" x2="269.91" y2="336.25" stroke="#3c3c3c" stroke-width="1.1" />
<text x="270.91" y="352.8" font-size="10" text-anchor="end" font-weight="normal" fill="#1c1c1c" transform="rotate(-90 270.91 352.8)" style="stroke-width:0.1px">0 min</text>
<rect x="273.89" y="318.33" width="7.2" height="27.97" fill="#585858"/>
<line x1="277.5" y1="312.89" x2="277.5" y2="324.03" stroke="#3c3c3c" stroke-width="0.9" />
<line x1="274.89" y1="312.89" x2="280.1" y2="312.89" stroke="#3c3c3c" stroke-width="1.1" />
<line x1="274.89" y1="324.03" x2="280.1" y2="324.03" stroke="#3c3c3c" stroke-width="1.1" />
<text x="281.1" y="352.8" font-size="10" text-anchor="end" font-weight="normal" fill="#1c1c1c" transform="rotate(-90 281.1 352.8)" style="stroke-width:0.1px">5 min</text>
<rect x="284.08" y="302.3" width="7.2" height="44" fill="#585858"/>
<line x1="287.69" y1="290.62" x2="287.69" y2="313.98" stroke="#3c3c3c" stroke-width="0.9" />
<line x1="285.08" y1="290.62" x2="290.29" y2="290.62" stroke="#3c3c3c" stroke-width="1.1" />
<line x1="285.08" y1="313.98" x2="290.29" y2="313.98" stroke="#3c3c3c" stroke-width="1.1" />
<text x="291.29" y="352.8" font-size="10" text-anchor="end" font-weight="normal" fill="#1c1c1c" transform="rotate(-90 291.29 352.8)" style="stroke-width:0.1px">15 min</text>
<rect x="294.27" y="296.33" width="7.2" height="49.97" fill="#585858"/>
<line x1="297.88" y1="289.26" x2="297.88" y2="303.39" stroke="#3c3c3c" stroke-width="0.9" />
<line x1="295.27" y1="289.26" x2="300.48" y2="289.26" stroke="#3c3c3c" stroke-width="1.1" />
<line x1="295.27" y1="303.39" x2="300.48" y2="303.39" stroke="#3c3c3c" stroke-width="1.1" />
<text x="301.48" y="352.8" font-size="10" text-anchor="end" font-weight="normal" fill="#1c1c1c" transform="rotate(-90 301.48 352.8)" style="stroke-width:0.1px">30 min</text>
<rect x="304.47" y="309.63" width="7.2" height="36.67" fill="#585858"/>
<line x1="308.07" y1="300.94" x2="308.07" y2="317.78" stroke="#3c3c3c" stroke-width="0.9" />
<line x1="305.47" y1="300.94" x2="310.67" y2="300.94" stroke="#3c3c3c" stroke-width="1.1" />
<line x1="305.47" y1="317.78" x2="310.67" y2="317.78" stroke="#3c3c3c" stroke-width="1.1" />
<text x="311.67" y="352.8" font-size="10" text-anchor="end" font-weight="normal" fill="#1c1c1c" transform="rotate(-90 311.67 352.8)" style="stroke-width:0.1px">60 min</text>
<rect x="324.85" y="331.91" width="7.2" height="14.39" fill="#585858"/>
<line x1="328.45" y1="326.47" x2="328.45" y2="336.25" stroke="#3c3c3c" stroke-width="0.9" />
<line x1="325.85" y1="326.47" x2="331.05" y2="326.47" stroke="#3c3c3c" stroke-width="1.1" />
<line x1="325.85" y1="336.25" x2="331.05" y2="336.25" stroke="#3c3c3c" stroke-width="1.1" />
<text x="332.05" y="352.8" font-size="10" text-anchor="end" font-weight="normal" fill="#1c1c1c" transform="rotate(-90 332.05 352.8)" style="stroke-width:0.1px">0 min</text>
<rect x="335.03" y="318.33" width="7.2" height="27.97" fill="#585858"/>
<line x1="338.63" y1="313.44" x2="338.63" y2="322.67" stroke="#3c3c3c" stroke-width="0.9" />
<line x1="336.03" y1="313.44" x2="341.24" y2="313.44" stroke="#3c3c3c" stroke-width="1.1" />
<line x1="336.03" y1="322.67" x2="341.24" y2="322.67" stroke="#3c3c3c" stroke-width="1.1" />
<text x="342.24" y="352.8" font-size="10" text-anchor="end" font-weight="normal" fill="#1c1c1c" transform="rotate(-90 342.24 352.8)" style="stroke-width:0.1px">5 min</text>
<rect x="345.23" y="304.2" width="7.2" height="42.1" fill="#585858"/>
<line x1="348.83" y1="299.86" x2="348.83" y2="308.28" stroke="#3c3c3c" stroke-width="0.9" />
<line x1="346.23" y1="299.86" x2="351.43" y2="299.86" stroke="#3c3c3c" stroke-width="1.1" />
<line x1="346.23" y1="308.28" x2="351.43" y2="308.28" stroke="#3c3c3c" stroke-width="1.1" />
<text x="352.43" y="352.8" font-size="10" text-anchor="end" font-weight="normal" fill="#1c1c1c" transform="rotate(-90 352.43 352.8)" style="stroke-width:0.1px">15 min</text>
<rect x="355.41" y="314.52" width="7.2" height="31.78" fill="#585858"/>
<line x1="359.01" y1="310.99" x2="359.01" y2="318.33" stroke="#3c3c3c" stroke-width="0.9" />
<line x1="356.41" y1="310.99" x2="361.62" y2="310.99" stroke="#3c3c3c" stroke-width="1.1" />
<line x1="356.41" y1="318.33" x2="361.62" y2="318.33" stroke="#3c3c3c" stroke-width="1.1" />
<text x="362.62" y="352.8" font-size="10" text-anchor="end" font-weight="normal" fill="#1c1c1c" transform="rotate(-90 362.62 352.8)" style="stroke-width:0.1px">30 min</text>
<rect x="365.61" y="317.24" width="7.2" height="29.06" fill="#585858"/>
<line x1="369.21" y1="313.71" x2="369.21" y2="320.77" stroke="#3c3c3c" stroke-width="0.9" />
<line x1="366.61" y1="313.71" x2="371.81" y2="313.71" stroke="#3c3c3c" stroke-width="1.1" />
<line x1="366.61" y1="320.77" x2="371.81" y2="320.77" stroke="#3c3c3c" stroke-width="1.1" />
<text x="372.81" y="352.8" font-size="10" text-anchor="end" font-weight="normal" fill="#1c1c1c" transform="rotate(-90 372.81 352.8)" style="stroke-width:0.1px">60 min</text>
<text x="190.09" y="356.8" font-size="9.7" text-anchor="end" font-weight="normal" fill="#1c1c1c" transform="rotate(-90 190.09 356.8)" >Surface EPCR</text>
<line x1="201.8" y1="388" x2="250.8" y2="388" stroke="#1a1a1a" stroke-width="1.4" />
<line x1="266.5" y1="388" x2="315.2" y2="388" stroke="#1a1a1a" stroke-width="1.4" />
<line x1="328" y1="388.3" x2="376.4" y2="388.3" stroke="#1a1a1a" stroke-width="1.4" />
<text x="231.5" y="404.8" font-size="12.6" text-anchor="middle" font-weight="normal" fill="#1c1c1c" >Control</text>
<text x="297" y="404.8" font-size="12.4" text-anchor="middle" font-weight="normal" fill="#1c1c1c" >FVIIa</text>
<text x="355.6" y="406.8" font-size="12.5" text-anchor="middle" font-weight="normal" fill="#1c1c1c" >APC</text>
<text x="290.2" y="424.2" font-size="14.4" text-anchor="middle" font-weight="normal" fill="#1c1c1c" >EPCR Internalized</text>
<text x="116.8" y="278.2" font-size="14.85" text-anchor="middle" font-weight="normal" fill="#1c1c1c" transform="rotate(-90 116.8 278.2)" >Biotinylated EPCR</text>
<text x="136.8" y="278" font-size="15" text-anchor="middle" font-weight="normal" fill="#1c1c1c" transform="rotate(-90 136.8 278)" >(% surface)</text>
<text x="353.6" y="229" font-size="17.5" text-anchor="start" font-weight="bold" fill="#111" >C</text>
</svg>
</body>
</html>
